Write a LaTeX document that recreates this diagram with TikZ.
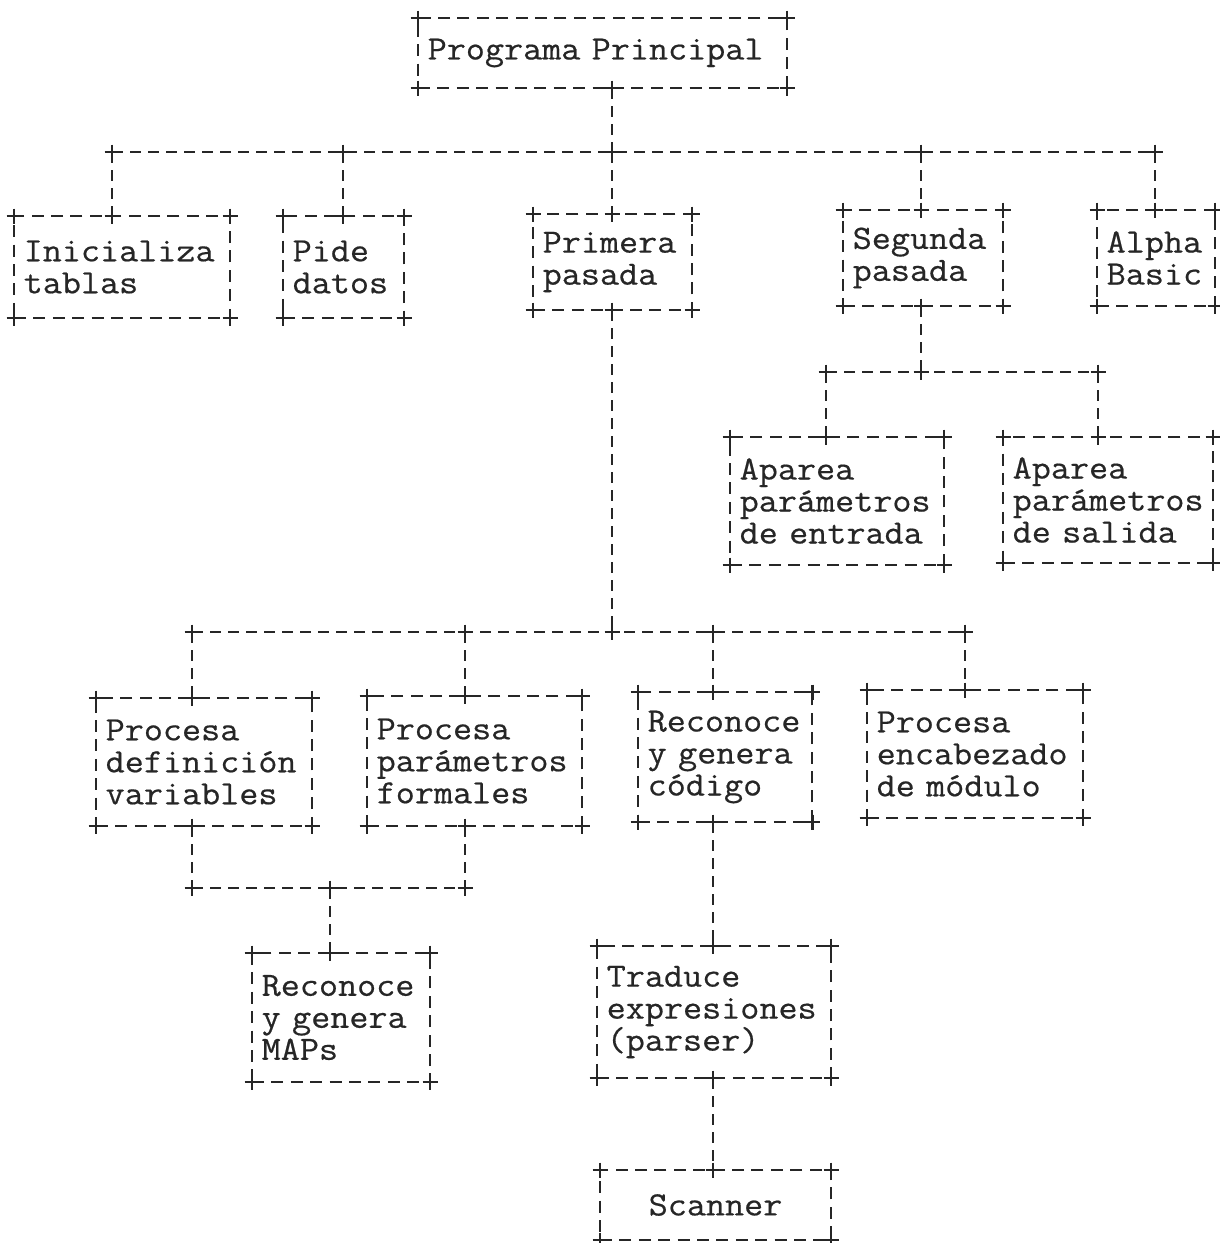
\documentclass[tikz,border=0pt]{standalone}
\usepackage{fontspec}
\setmonofont{Latin Modern Mono}[FakeBold=0.5, FakeStretch=1.09]
\begin{document}
\begin{tikzpicture}[x=1pt,y=-1pt,
  ink/.style={color=black!85},
  box/.style={ink, draw, line width=2pt, dash pattern=on 12pt off 7.4pt,
    anchor=north west, align=left, inner xsep=9.7pt, inner ysep=0pt, outer sep=0pt,
    font=\ttfamily\fontsize{34}{32}\selectfont},
  conn/.style={ink, line width=2pt, dash pattern=on 11pt off 7pt},
  crux/.pic={\draw[ink, solid, line width=2.4pt] (-7.5,0) -- (7.5,0) (0,-7.5) -- (0,7.5);}
]
\newcommand\boxcorners[1]{%
  \pic at (#1.north west) {crux}; \pic at (#1.north east) {crux};
  \pic at (#1.south west) {crux}; \pic at (#1.south east) {crux};}
\useasboundingbox[fill=white] (0,0) rectangle (1220,1243);

% boxes
\node[box, minimum width=369pt, minimum height=70pt, text width=349.6pt] (prog) at (418,18) {Programa Principal};
\node[box, minimum width=216pt, minimum height=102pt, text width=196.6pt] (ini) at (14,216) {Inicializa\\tablas};
\node[box, minimum width=121pt, minimum height=102pt, text width=101.6pt] (pide) at (283,216) {Pide\\datos};
\node[box, minimum width=159pt, minimum height=96pt, text width=139.6pt] (prim) at (533,214) {Primera\\pasada};
\node[box, minimum width=160pt, minimum height=96pt, text width=140.6pt] (seg) at (843,210) {Segunda\\pasada};
\node[box, minimum width=118pt, minimum height=96pt, text width=98.6pt] (alpha) at (1097,210) {Alpha\\Basic};
\node[box, minimum width=214pt, minimum height=128pt, text width=194.6pt] (apin) at (730,437) {Aparea\\parámetros\\de entrada};
\node[box, minimum width=210pt, minimum height=126pt, text width=190.6pt] (apout) at (1003,437) {Aparea\\parámetros\\de salida};
\node[box, minimum width=216pt, minimum height=128pt, text width=196.6pt] (pdef) at (96,698) {Procesa\\definición\\variables};
\node[box, minimum width=215pt, minimum height=130pt, text width=195.6pt] (ppar) at (367,696) {Procesa\\parámetros\\formales};
\node[box, minimum width=174pt, minimum height=130pt, text width=155pt] (rcod) at (638,692) {Reconoce\\y genera\\código};
\node[box, minimum width=216pt, minimum height=128pt, text width=196.6pt] (penc) at (867,690) {Procesa\\encabezado\\de módulo};
\node[box, minimum width=178pt, minimum height=129pt, text width=158.6pt] (rmap) at (252,953) {Reconoce\\y genera\\MAPs};
\node[box, minimum width=234pt, minimum height=132pt, text width=214.6pt] (trad) at (597,946) {Traduce\\expresiones\\(parser)};
\node[box, minimum width=231pt, minimum height=70pt, align=center] (scan) at (600,1170) {Scanner};

% junction coordinates
\coordinate (a1) at (112,152);
\coordinate (a2) at (343,152);
\coordinate (a3) at (612,152);
\coordinate (a4) at (921,152);
\coordinate (a5) at (1155,152);
\coordinate (s0) at (921,372);
\coordinate (s1) at (826,372);
\coordinate (s2) at (1098,372);
\coordinate (p0) at (612,632);
\coordinate (p1) at (192,632);
\coordinate (p2) at (465,632);
\coordinate (p3) at (713,632);
\coordinate (p4) at (965,632);
\coordinate (m0) at (330,888);
\coordinate (m1) at (192,888);
\coordinate (m2) at (465,888);

% connectors
\draw[conn] (prog.south -| a3) -- (a3);
\draw[conn] (a1) -- (a5);
\foreach \c/\j in {ini/a1, pide/a2, prim/a3, seg/a4, alpha/a5}
  {\draw[conn] (\j) -- (\c.north -| \j); \pic at (\c.north -| \j) {crux}; \pic at (\j) {crux};}
\draw[conn] (seg.south -| a4) -- (s0);
\draw[conn] (s1) -- (s2);
\foreach \c/\j in {apin/s1, apout/s2}
  {\draw[conn] (\j) -- (\c.north -| \j); \pic at (\c.north -| \j) {crux}; \pic at (\j) {crux};}
\draw[conn] (prim.south -| a3) -- (p0);
\draw[conn] (p1) -- (p4);
\foreach \c/\j in {pdef/p1, ppar/p2, rcod/p3, penc/p4}
  {\draw[conn] (\j) -- (\c.north -| \j); \pic at (\c.north -| \j) {crux}; \pic at (\j) {crux};}
\draw[conn] (pdef.south -| p1) -- (m1);
\draw[conn] (ppar.south -| p2) -- (m2);
\draw[conn] (m1) -- (m2);
\draw[conn] (m0) -- (rmap.north -| m0);
\draw[conn] (rcod.south -| p3) -- (trad.north -| p3);
\draw[conn] (trad.south -| p3) -- (scan.north -| p3);

% plus marks
\foreach \b in {prog,ini,pide,prim,seg,alpha,apin,apout,pdef,ppar,rcod,penc,rmap,trad,scan}
  {\boxcorners{\b}}
\pic at (prog.south -| a3) {crux};
\pic at (prim.south -| a3) {crux};
\pic at (seg.south -| a4) {crux};
\pic at (s0) {crux};
\pic at (p0) {crux};
\pic at (pdef.south -| p1) {crux};
\pic at (ppar.south -| p2) {crux};
\pic at (rcod.south -| p3) {crux};
\pic at (trad.south -| p3) {crux};
\pic at (m0) {crux}; \pic at (m1) {crux}; \pic at (m2) {crux};
\pic at (rmap.north -| m0) {crux};
\pic at (trad.north -| p3) {crux};
\pic at (scan.north -| p3) {crux};
\end{tikzpicture}
\end{document}
